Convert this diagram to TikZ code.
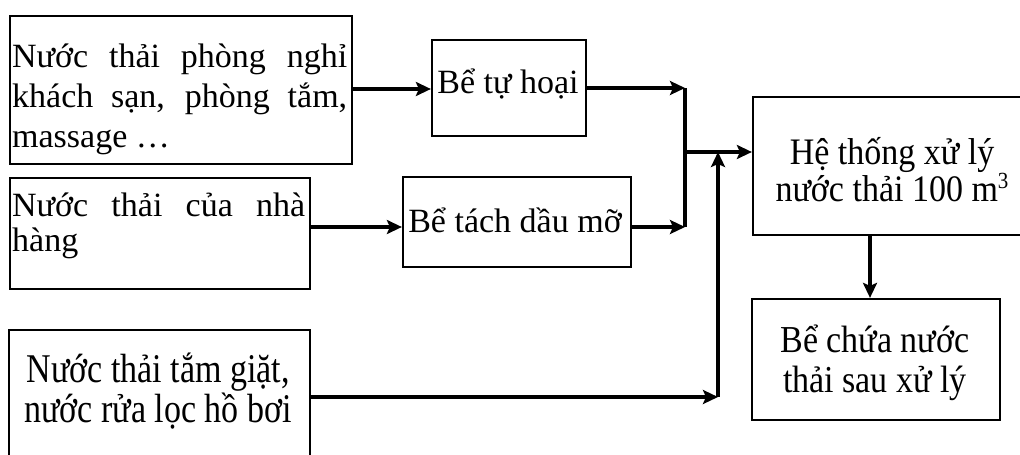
\documentclass[tikz,border=0pt]{standalone}
\usepackage{fontspec}
\setmainfont{Liberation Serif}
\usetikzlibrary{arrows.meta}
\newcommand{\cubed}{\raisebox{0.75ex}{\fontsize{21}{21}\selectfont 3}}
\newcommand{\tallline}[2][1.2]{\scalebox{1}[#1]{#2}}
\begin{document}
\begin{tikzpicture}[x=1pt,y=-1pt,
  box/.style={draw, line width=2.2pt, rectangle, inner sep=0pt},
  lbl/.style={anchor=base, inner sep=0pt, font=\fontsize{34}{40}\selectfont},
  lblw/.style={anchor=base west, inner sep=0pt, font=\fontsize{34}{40}\selectfont},
  flow/.style={line width=3.2pt},
  arr/.style={flow, -{Stealth[length=15pt,width=14pt,inset=3pt]}}]
\useasboundingbox (0,0) rectangle (1020,455);
\clip (0,0) rectangle (1020,455);

% boxes
\node[box, minimum width=342pt, minimum height=148pt] (A) at (181,90) {};
\node[box, minimum width=154pt, minimum height=96pt]  (B) at (509,88) {};
\node[box, minimum width=300pt, minimum height=111pt] (C) at (160,233.5) {};
\node[box, minimum width=228pt, minimum height=90pt]  (D) at (517,222) {};
\node[box, minimum width=278pt, minimum height=138pt] (E) at (892,166) {};
\node[box, minimum width=248pt, minimum height=121pt] (F) at (876,359.5) {};
\node[box, minimum width=301pt, minimum height=150pt] (G) at (159.5,405) {};

% texts
\node[lblw] (a1) at (12,67)  {\makebox[335pt][s]{Nước thải phòng nghỉ}};
\node[lblw] (a2) at (12,107) {\makebox[335pt][s]{khách sạn, phòng tắm,}};
\node[lblw] (a3) at (12,147) {massage …};
\node[lbl]  (b1) at (508,93) {Bể tự hoại};
\node[lblw] (c1) at (12,216) {\makebox[293pt][s]{Nước thải của nhà}};
\node[lblw] (c2) at (12,251) {hàng};
\node[lbl]  (d1) at (515,232) {Bể tách dầu mỡ};
\node[lbl]  (e1) at (892,164) {\tallline[1.1]{Hệ thống xử lý}};
\node[lbl]  (e2) at (892,201) {\tallline[1.1]{nước thải 100 m\cubed}};
\node[lbl]  (f1) at (875,352) {\tallline[1.12]{Bể chứa nước}};
\node[lbl]  (f2) at (875,392) {\tallline[1.12]{thải sau xử lý}};
\node[lbl]  (g1) at (158,382) {\tallline{Nước thải tắm giặt,}};
\node[lbl]  (g2) at (158,422) {\tallline{nước rửa lọc hồ bơi}};

% junction points
\coordinate (ab) at (0,89);
\coordinate (cd) at (0,227);
\coordinate (j1) at (685,88);
\coordinate (j2) at (685,227);
\coordinate (jm) at (685,152);
\coordinate (k1) at (718,397);
\coordinate (k2) at (718,152);
\coordinate (ef) at (870,0);

% connectors
\draw[arr] (A.east |- ab) -- (B.west |- ab);
\draw[arr] (C.east |- cd) -- (D.west |- cd);
\draw[arr] (B.east |- j1) -- (j1);
\draw[arr] (D.east |- j2) -- (j2);
\draw[flow] (j1) -- (j2);
\draw[arr] (jm) -- (E.west |- jm);
\draw[arr] (G.east |- k1) -- (k1);
\draw[arr] (k1) -- (k2);
\draw[arr] (E.south -| ef) -- (F.north -| ef);
\end{tikzpicture}
\end{document}
